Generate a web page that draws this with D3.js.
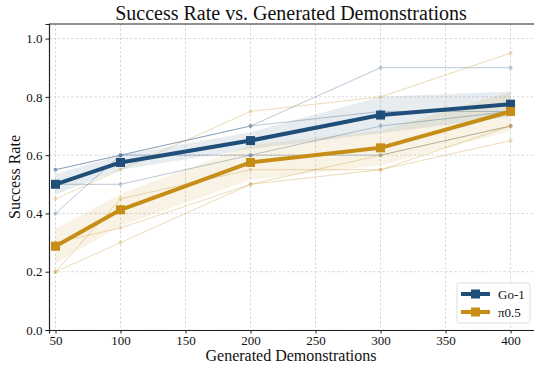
<!DOCTYPE html>
<html>
<head>
<meta charset="utf-8">
<script src="https://cdn.jsdelivr.net/npm/d3@7"></script>
<style>
    body { margin: 0; background: #fff; }
    text { font-family: "Liberation Serif", "DejaVu Serif", serif; fill: #111; }
</style>
</head>
<body>
<div id="chart"></div>
<script>
// demo counts on the x axis
var demos = [50, 100, 200, 300, 400];

// individual runs
var goRuns = [
    [0.55, 0.60, 0.70, 0.90, 0.90],
    [0.40, 0.60, 0.70, 0.75, 0.75],
    [0.55, 0.60, 0.60, 0.60, 0.70],
    [0.50, 0.50, 0.60, 0.70, 0.75]
];
var piRuns = [
    [0.45, 0.55, 0.75, 0.80, 0.95],
    [0.20, 0.45, 0.55, 0.55, 0.70],
    [0.30, 0.35, 0.50, 0.60, 0.70],
    [0.20, 0.30, 0.50, 0.55, 0.65]
];

var xTicks = [50, 100, 150, 200, 250, 300, 350, 400];
var yTicks = [0, 0.2, 0.4, 0.6, 0.8, 1.0];

var series = [
    { name: "Go-1", runs: goRuns, color: "#1f4e79" },
    { name: "\u03c00.5", runs: piRuns, color: "#c68e17" }
];

var W = 534, H = 366;
var margin = { top: 24, right: 0, bottom: 36, left: 49 };
var width = 486, height = 306;

var svg = d3.select("#chart").append("svg")
    .attr("width", W).attr("height", H);

var x = d3.scaleLinear().domain([45, 418.8]).range([0, width]);
var y = d3.scaleLinear().domain([0, 1.05]).range([height, 0]);

var g = svg.append("g")
    .attr("transform", "translate(" + margin.left + "," + margin.top + ")");

// grid
g.append("g").selectAll("line").data(xTicks).join("line")
    .attr("x1", function(d) { return x(d); }).attr("x2", function(d) { return x(d); })
    .attr("y1", 0).attr("y2", height)
    .attr("stroke", "#cfcfcf").attr("stroke-width", 0.8).attr("stroke-dasharray", "2.5,2");
g.append("g").selectAll("line").data(yTicks).join("line")
    .attr("x1", 0).attr("x2", width)
    .attr("y1", function(d) { return y(d); }).attr("y2", function(d) { return y(d); })
    .attr("stroke", "#cfcfcf").attr("stroke-width", 0.8).attr("stroke-dasharray", "2.5,2");

// stats per point: mean and standard error
series.forEach(function(s) {
    s.stats = demos.map(function(dm, i) {
        var vals = s.runs.map(function(r) { return r[i]; });
        var m = d3.mean(vals);
        var se = d3.deviation(vals) / Math.sqrt(vals.length);
        return { x: dm, mean: m, lo: m - se, hi: m + se };
    });
});

var area = d3.area()
    .x(function(d) { return x(d.x); })
    .y0(function(d) { return y(d.lo); })
    .y1(function(d) { return y(d.hi); });

var line = d3.line()
    .x(function(d) { return x(d.x); })
    .y(function(d) { return y(d.y); });

// bands
series.forEach(function(s) {
    g.append("path").datum(s.stats)
        .attr("d", area)
        .attr("fill", s.color).attr("fill-opacity", 0.11);
});

// thin individual runs
series.forEach(function(s) {
    s.runs.forEach(function(r) {
        var pts = demos.map(function(dm, i) { return { x: dm, y: r[i] }; });
        var rg = g.append("g").attr("opacity", 0.3);
        rg.append("path").datum(pts)
            .attr("d", line)
            .attr("fill", "none").attr("stroke", s.color).attr("stroke-width", 1);
        rg.selectAll("circle").data(pts).join("circle")
            .attr("cx", function(d) { return x(d.x); })
            .attr("cy", function(d) { return y(d.y); })
            .attr("r", 2)
            .attr("fill", s.color);
    });
});

// mean lines
series.forEach(function(s) {
    var pts = s.stats.map(function(d) { return { x: d.x, y: d.mean }; });
    g.append("path").datum(pts)
        .attr("d", line)
        .attr("fill", "none").attr("stroke", s.color).attr("stroke-width", 4)
        .attr("stroke-linejoin", "round");
    g.selectAll(null).data(pts).join("rect")
        .attr("x", function(d) { return x(d.x) - 4.5; })
        .attr("y", function(d) { return y(d.y) - 4.5; })
        .attr("width", 9).attr("height", 9)
        .attr("fill", s.color);
});

// axes
var xAxis = g.append("g")
    .attr("transform", "translate(0," + height + ")")
    .call(d3.axisBottom(x).tickValues(xTicks).tickFormat(d3.format("d")).tickSize(3.5).tickPadding(2));
var yAxis = g.append("g")
    .call(d3.axisLeft(y).tickValues(yTicks).tickFormat(d3.format(".1f")).tickSize(3.5).tickPadding(3));
[xAxis, yAxis].forEach(function(a) {
    a.attr("font-family", "Liberation Serif");
    a.select(".domain").attr("stroke", "#222").attr("stroke-width", 1.2);
    a.selectAll(".tick line").attr("stroke", "#222");
    a.selectAll(".tick text").attr("font-size", 13)
        .style("font-family", "'Liberation Serif', serif").attr("fill", "#111");
});
// top spine
g.append("line").attr("x1", 0).attr("x2", width).attr("y1", 0).attr("y2", 0)
    .attr("stroke", "#222").attr("stroke-width", 1.2);

// titles
svg.append("text")
    .attr("x", margin.left + width / 2 - 1).attr("y", 20)
    .attr("text-anchor", "middle").attr("font-size", 20)
    .text("Success Rate vs. Generated Demonstrations");
svg.append("text")
    .attr("x", margin.left + width / 2 - 1).attr("y", 361)
    .attr("text-anchor", "middle").attr("font-size", 16)
    .text("Generated Demonstrations");
svg.append("text")
    .attr("transform", "translate(20," + (margin.top + height / 2) + ") rotate(-90)")
    .attr("text-anchor", "middle").attr("font-size", 16)
    .text("Success Rate");

// Handmade legend
var lg = svg.append("g").attr("transform", "translate(457,283)");
lg.append("rect").attr("width", 73).attr("height", 40).attr("rx", 2.5)
    .attr("fill", "#fff").attr("fill-opacity", 0.85)
    .attr("stroke", "#d6d6d6").attr("stroke-width", 0.8);
series.forEach(function(s, i) {
    var yy = 11 + i * 18;
    lg.append("line").attr("x1", 4).attr("x2", 33).attr("y1", yy).attr("y2", yy)
        .attr("stroke", s.color).attr("stroke-width", 4);
    lg.append("rect").attr("x", 14).attr("y", yy - 4.5).attr("width", 9).attr("height", 9)
        .attr("fill", s.color);
    lg.append("text").attr("x", 41).attr("y", yy).attr("dy", "0.35em")
        .attr("font-size", 13).text(s.name);
});
</script>
</body>
</html>
